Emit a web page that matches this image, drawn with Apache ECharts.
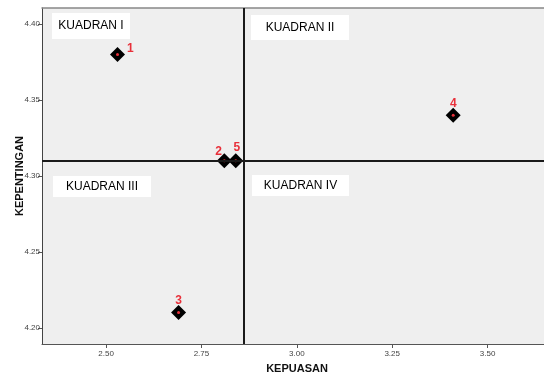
<!DOCTYPE html>
<html>
<head>
<meta charset="utf-8">
<script src="https://cdn.jsdelivr.net/npm/echarts@6/dist/echarts.min.js"></script>
<style>html,body{margin:0;padding:0;background:#fff}#c{width:544px;height:375px}</style>
</head>
<body>
<div id="c"></div>
<script>
// Data
const pointLabels = ['1', '2', '3', '4', '5'];
const kepuasan = [2.53, 2.81, 2.69, 3.41, 2.84];
const kepentingan = [4.38, 4.31, 4.21, 4.34, 4.31];
const xTicks = [2.50, 2.75, 3.00, 3.25, 3.50];
const yTicks = [4.20, 4.25, 4.30, 4.35, 4.40];
const refX = 2.86;
const refY = 4.31;
const quadrantNames = ['KUADRAN I', 'KUADRAN II', 'KUADRAN III', 'KUADRAN IV'];

const labelStyles = [
  { position: 'right', offset: [-1, -6] },
  { position: 'left', offset: [8, -9] },
  { position: 'top', offset: [0, 5] },
  { position: 'top', offset: [0, 5] },
  { position: 'top', offset: [1, 3] }
];

const points = kepuasan.map((x, i) => ({
  value: [x, kepentingan[i]],
  name: pointLabels[i],
  label: {
    show: true,
    formatter: pointLabels[i],
    position: labelStyles[i].position,
    offset: labelStyles[i].offset,
    distance: 3,
    color: '#e8303a',
    fontWeight: 'bold',
    fontSize: 12,
    fontFamily: 'Liberation Sans, Arial, sans-serif'
  }
}));
const dots = kepuasan.map((x, i) => [x, kepentingan[i]]);

const chart = echarts.init(document.getElementById('c'), null, { renderer: 'canvas' });

const boxes = [
  { x: 52, y: 13, w: 78, h: 26 },
  { x: 251, y: 15, w: 98, h: 25 },
  { x: 53, y: 176, w: 98, h: 21 },
  { x: 252, y: 175, w: 97, h: 21 }
];
const graphics = [];
boxes.forEach((b, i) => {
  graphics.push({
    type: 'rect', z: 5,
    shape: { x: b.x, y: b.y, width: b.w, height: b.h },
    style: { fill: '#ffffff' }
  });
  graphics.push({
    type: 'text', z: 6,
    x: b.x + b.w / 2, y: b.y + b.h / 2,
    style: {
      text: quadrantNames[i], fill: '#000', fontSize: 12,
      fontFamily: 'Liberation Sans, Arial, sans-serif',
      align: 'center', verticalAlign: 'middle'
    }
  });
});
graphics.push({
  type: 'text', z: 6, x: 297, y: 369,
  style: { text: 'KEPUASAN', fill: '#111', fontSize: 11, fontWeight: 'bold',
    fontFamily: 'Liberation Sans, Arial, sans-serif', align: 'center', verticalAlign: 'middle' }
});
graphics.push({
  type: 'text', z: 6, x: 20, y: 176, rotation: Math.PI / 2,
  style: { text: 'KEPENTINGAN', fill: '#111', fontSize: 11, fontWeight: 'bold',
    fontFamily: 'Liberation Sans, Arial, sans-serif', align: 'center', verticalAlign: 'middle' }
});

const xMin = 2.332, xMax = 3.648;
const yMin = 4.1893, yMax = 4.4107;

chart.setOption({
  animation: false,
  backgroundColor: '#ffffff',
  grid: {
    left: 42, top: 8, right: 0, bottom: 31,
    show: true, backgroundColor: '#efefef', borderWidth: 0
  },
  xAxis: [{
    type: 'value', min: xMin, max: xMax,
    axisLine: { show: true, lineStyle: { color: '#555', width: 1 } },
    axisTick: { show: true, length: 4, customValues: xTicks, lineStyle: { color: '#555' } },
    axisLabel: {
      customValues: xTicks, margin: 6, fontSize: 8, color: '#444',
      fontFamily: 'Liberation Sans, Arial, sans-serif',
      formatter: v => v.toFixed(2)
    },
    splitLine: { show: false }
  }, {
    type: 'value', position: 'top', min: xMin, max: xMax,
    axisLine: { show: true, lineStyle: { color: '#888', width: 1.5 } },
    axisTick: { show: false }, axisLabel: { show: false }, splitLine: { show: false }
  }],
  yAxis: {
    type: 'value', min: yMin, max: yMax,
    axisLine: { show: true, lineStyle: { color: '#444', width: 1 } },
    axisTick: { show: true, length: 4, customValues: yTicks, lineStyle: { color: '#555' } },
    axisLabel: {
      customValues: yTicks, margin: 2, fontSize: 8, color: '#444',
      fontFamily: 'Liberation Sans, Arial, sans-serif',
      formatter: v => v.toFixed(2)
    },
    splitLine: { show: false }
  },
  graphic: graphics,
  series: [
    {
      type: 'scatter',
      symbol: 'diamond',
      symbolSize: 15,
      itemStyle: { color: '#000', opacity: 1 },
      data: points,
      z: 3,
      markLine: {
        silent: true,
        symbol: ['none', 'none'],
        label: { show: false },
        lineStyle: { color: '#1a1a1a', width: 2, type: 'solid' },
        data: [{ xAxis: refX }, { yAxis: refY }]
      }
    },
    {
      type: 'scatter',
      symbol: 'circle',
      symbolSize: 3,
      itemStyle: { color: '#e8303a', opacity: 1 },
      data: dots,
      z: 4
    }
  ]
});
</script>
</body>
</html>
